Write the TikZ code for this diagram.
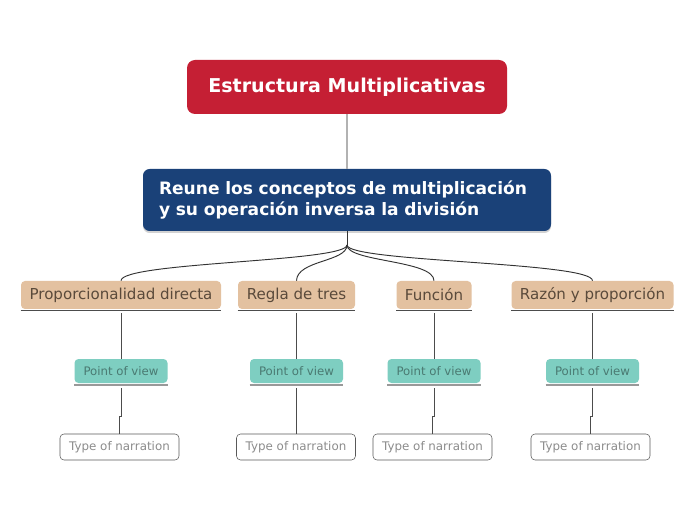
\documentclass[tikz,border=0pt]{standalone}
\usepackage{fontspec}
\setmainfont{DejaVu Sans}
\usetikzlibrary{positioning,calc,shadows}
\definecolor{titlered}{HTML}{C51F34}
\definecolor{mainblue}{HTML}{1A4178}
\definecolor{tanfill}{HTML}{E3C1A0}
\definecolor{tantext}{HTML}{5A4A3B}
\definecolor{tealfill}{HTML}{7ECEC1}
\definecolor{tealtext}{HTML}{4A7A72}

\begin{document}
\begin{tikzpicture}[x=0.75pt,y=-0.75pt,
  every node/.style={font=\small},
  titlebox/.style={fill=titlered,rounded corners=6pt,minimum width=240pt,minimum height=40.5pt,
    text=white,font=\fontsize{14.3}{17}\selectfont\bfseries},
  mainbox/.style={fill=mainblue,rounded corners=5pt,minimum width=306pt,minimum height=46.5pt,
    text width=282pt,align=left,text=white,font=\fontsize{12.8}{15.8}\selectfont\bfseries,
    drop shadow={shadow xshift=0pt,shadow yshift=-1.5pt,opacity=0.35}},
  topicbox/.style={fill=tanfill,rounded corners=3pt,minimum height=21pt,inner xsep=0pt,
    text=tantext,font=\fontsize{11.3}{13}\selectfont},
  viewbox/.style={fill=tealfill,rounded corners=3pt,minimum width=69.75pt,minimum height=18pt,
    inner xsep=0pt,text=tealtext,font=\fontsize{8.8}{10}\selectfont},
  narrbox/.style={draw=black!65,fill=white,rounded corners=3pt,minimum width=89.25pt,
    minimum height=19.5pt,inner xsep=0pt,text=black!45,font=\fontsize{8.9}{10}\selectfont},
  branch/.style={draw=black!80,line width=0.7pt},
  uline/.style={draw=black!70,line width=0.9pt},
  vline/.style={draw=black!40,line width=1.4pt}]

\fill[white] (0,0) rectangle (696,520);

% top of the map
\node[titlebox] (title) at (347,87) {Estructura Multiplicativas};
\node[mainbox] (main) at (347,200) {Reune los conceptos de multiplicación\\y su operación inversa la división};
\draw[black!30,line width=2.2pt] (title.south) -- (main.north);

% topics
\node[topicbox,minimum width=150pt] (prop) at (121,295) {Proporcionalidad directa};
\node[topicbox,minimum width=87.75pt] (regla) at (296.5,295) {Regla de tres};
\node[topicbox,minimum width=56.25pt] (func) at (434,295) {Función};
\node[topicbox,minimum width=121.5pt] (razon) at (592.5,295) {Razón y proporción};
\foreach \n in {prop,regla,func,razon}
  \draw[uline] ($(\n.south west)+(0,1.5)$) -- ($(\n.south east)+(0,1.5)$);

\coordinate (hub) at (347,245);
\draw[branch] (main.south) -- (hub);
\draw[branch] (hub) .. controls (347,262) and (121,262) .. (prop.north);
\draw[branch] (hub) .. controls (347,262) and (297,260) .. (regla.north);
\draw[branch] (hub) .. controls (347,262) and (434,260) .. (func.north);
\draw[branch] (hub) .. controls (347,262) and (593,262) .. (razon.north);

% point of view
\node[viewbox] (pv1) at (121,371) {Point of view};
\node[viewbox] (pv2) at (296.5,371) {Point of view};
\node[viewbox] (pv3) at (434,371) {Point of view};
\node[viewbox] (pv4) at (592.5,371) {Point of view};
\foreach \n in {pv1,pv2,pv3,pv4}
  \draw[vline] ($(\n.south west)+(0,2)$) -- ($(\n.south east)+(0,2)$);

% type of narration
\node[narrbox] (tn1) at (119.5,447) {Type of narration};
\node[narrbox] (tn2) at (296,447) {Type of narration};
\node[narrbox] (tn3) at (432.5,447) {Type of narration};
\node[narrbox] (tn4) at (590.5,447) {Type of narration};

\draw[branch,black!70] ($(prop.south)+(0,4)$) -- (pv1.north);
\draw[branch,black!70] ($(regla.south)+(0,4)$) -- (pv2.north);
\draw[branch,black!70] ($(func.south)+(0,4)$) -- (pv3.north);
\draw[branch,black!70] ($(razon.south)+(0,4)$) -- (pv4.north);
\draw[branch,black!70] ($(pv1.south)+(0,5)$) -- ++(0,28) -| (tn1.north);
\draw[branch,black!70] ($(pv2.south)+(0,5)$) -- ++(0,28) -| (tn2.north);
\draw[branch,black!70] ($(pv3.south)+(0,5)$) -- ++(0,28) -| (tn3.north);
\draw[branch,black!70] ($(pv4.south)+(0,5)$) -- ++(0,28) -| (tn4.north);
\end{tikzpicture}
\end{document}
